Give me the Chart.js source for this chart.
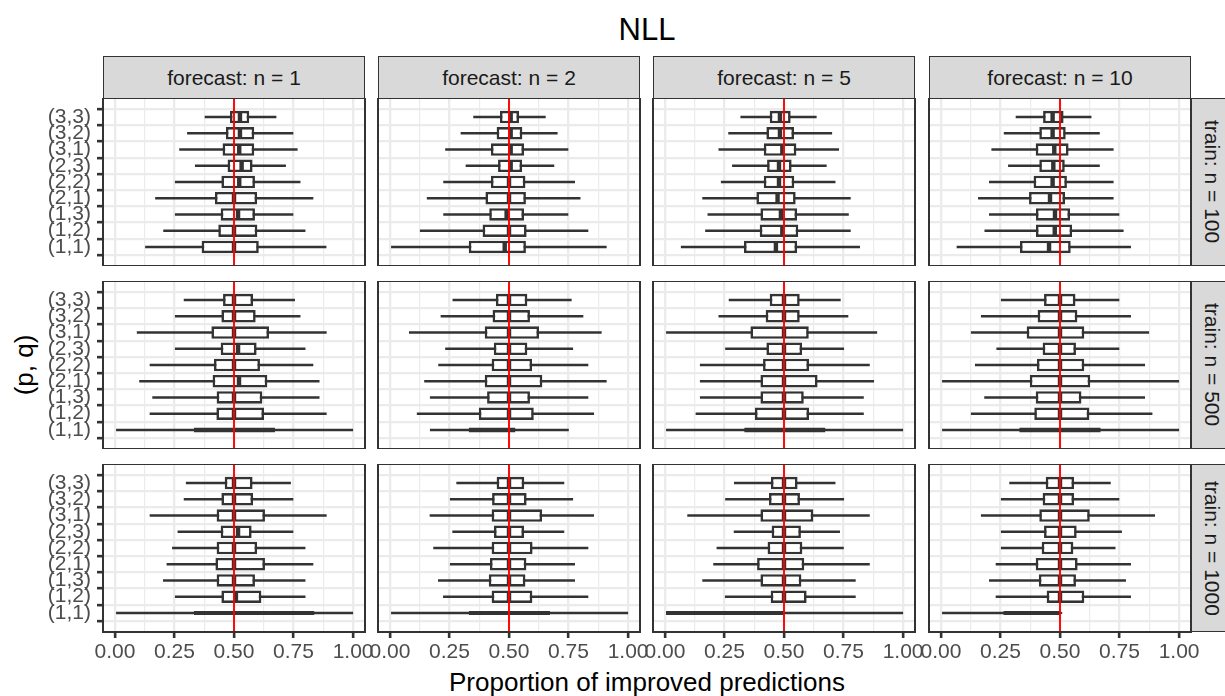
<!DOCTYPE html>
<html>
<head>
<meta charset="utf-8">
<script src="https://cdn.jsdelivr.net/npm/chart.js@4.4.1/dist/chart.umd.min.js"></script>
<style>
  body { margin: 0; background: #fff; font-family: "Liberation Sans", Arial, Helvetica, sans-serif; }
  #wrap { position: relative; width: 1225px; height: 696px; overflow: hidden; background: #fff; }
  #wrap canvas { position: absolute; }
  .txt { position: absolute; white-space: nowrap; }
  .strip { position: absolute; box-sizing: border-box; background: #D9D9D9; border: 1.8px solid #333333;
           color: #1A1A1A; font-size: 21px; display: flex; align-items: center; justify-content: center; }
  .strip.right span { writing-mode: vertical-rl; }
</style>
</head>
<body>
<div id="wrap">
  <div class="txt" style="left:103px;width:1088px;top:12px;line-height:36px;font-size:31px;text-align:center;color:#000">NLL</div>
  <div class="txt" style="left:24px;top:365px;font-size:26px;color:#000;transform:translate(-50%,-50%) rotate(-90deg)">(p, q)</div>
  <div class="txt" style="left:103px;width:1088px;top:668px;line-height:29px;font-size:26px;text-align:center;color:#000">Proportion of improved predictions</div>
</div>
<script>
// facet labels
const forecastN = [1, 2, 5, 10];
const trainN = [100, 500, 1000];
// (p, q) orders, top to bottom as drawn
const categories = ['(3,3)', '(3,2)', '(3,1)', '(2,3)', '(2,2)', '(2,1)', '(1,3)', '(1,2)', '(1,1)'];
const xBreaks = [0, 0.25, 0.5, 0.75, 1];
const xMinorBreaks = [0.125, 0.375, 0.625, 0.875];
const refValue = 0.5;

// boxplot stats, indexed [train][forecast][category]
const whiskerLow = [
  [[0.377, 0.303, 0.270, 0.336, 0.252, 0.169, 0.252, 0.203, 0.127],
   [0.350, 0.297, 0.232, 0.318, 0.224, 0.155, 0.224, 0.126, 0.000],
   [0.317, 0.266, 0.225, 0.282, 0.235, 0.157, 0.179, 0.169, 0.067],
   [0.314, 0.264, 0.212, 0.282, 0.202, 0.156, 0.202, 0.183, 0.066]],
  [[0.289, 0.252, 0.092, 0.252, 0.146, 0.102, 0.157, 0.146, 0.000],
   [0.263, 0.213, 0.080, 0.232, 0.203, 0.144, 0.168, 0.113, 0.168],
   [0.268, 0.225, 0.000, 0.253, 0.147, 0.147, 0.147, 0.129, 0.000],
   [0.252, 0.168, 0.126, 0.233, 0.143, 0.000, 0.182, 0.126, 0.000]],
  [[0.298, 0.289, 0.146, 0.263, 0.240, 0.217, 0.202, 0.252, 0.000],
   [0.279, 0.252, 0.167, 0.262, 0.182, 0.252, 0.202, 0.223, 0.000],
   [0.290, 0.253, 0.094, 0.289, 0.217, 0.203, 0.157, 0.252, 0.000],
   [0.287, 0.252, 0.168, 0.252, 0.252, 0.230, 0.202, 0.230, 0.000]],
];
const q1 = [
  [[0.483, 0.466, 0.452, 0.473, 0.447, 0.420, 0.444, 0.434, 0.364],
   [0.462, 0.448, 0.424, 0.454, 0.424, 0.401, 0.417, 0.389, 0.331],
   [0.440, 0.426, 0.415, 0.429, 0.415, 0.384, 0.401, 0.398, 0.332],
   [0.429, 0.413, 0.398, 0.413, 0.389, 0.370, 0.399, 0.399, 0.332]],
  [[0.454, 0.447, 0.405, 0.444, 0.416, 0.410, 0.427, 0.426, 0.332],
   [0.445, 0.431, 0.398, 0.436, 0.427, 0.398, 0.408, 0.373, 0.331],
   [0.440, 0.423, 0.359, 0.426, 0.412, 0.401, 0.401, 0.378, 0.333],
   [0.433, 0.406, 0.360, 0.427, 0.403, 0.373, 0.398, 0.392, 0.329]],
  [[0.461, 0.447, 0.427, 0.444, 0.427, 0.422, 0.427, 0.447, 0.332],
   [0.448, 0.429, 0.427, 0.437, 0.427, 0.420, 0.415, 0.427, 0.331],
   [0.445, 0.437, 0.401, 0.448, 0.431, 0.387, 0.401, 0.444, 0.000],
   [0.440, 0.427, 0.413, 0.433, 0.423, 0.398, 0.411, 0.444, 0.262]],
];
const median = [
  [[0.525, 0.525, 0.522, 0.532, 0.522, 0.500, 0.517, 0.500, 0.500],
   [0.507, 0.507, 0.507, 0.507, 0.500, 0.500, 0.490, 0.500, 0.482],
   [0.483, 0.483, 0.493, 0.479, 0.479, 0.473, 0.487, 0.493, 0.466],
   [0.469, 0.469, 0.476, 0.472, 0.469, 0.458, 0.479, 0.478, 0.454]],
  [[0.500, 0.500, 0.500, 0.517, 0.500, 0.521, 0.500, 0.500, 0.500],
   [0.500, 0.500, 0.500, 0.500, 0.500, 0.500, 0.500, 0.500, 0.500],
   [0.500, 0.500, 0.500, 0.500, 0.500, 0.500, 0.500, 0.500, 0.500],
   [0.500, 0.500, 0.500, 0.500, 0.500, 0.500, 0.500, 0.500, 0.500]],
  [[0.500, 0.500, 0.500, 0.517, 0.500, 0.500, 0.500, 0.508, 0.500],
   [0.500, 0.500, 0.500, 0.500, 0.500, 0.500, 0.500, 0.500, 0.500],
   [0.500, 0.500, 0.500, 0.500, 0.500, 0.500, 0.500, 0.500, 0.500],
   [0.500, 0.500, 0.500, 0.500, 0.500, 0.500, 0.500, 0.500, 0.500]],
];
const q3 = [
  [[0.564, 0.585, 0.585, 0.578, 0.588, 0.597, 0.588, 0.598, 0.604],
   [0.542, 0.556, 0.563, 0.555, 0.569, 0.571, 0.563, 0.574, 0.571],
   [0.528, 0.542, 0.552, 0.532, 0.543, 0.549, 0.555, 0.560, 0.555],
   [0.515, 0.524, 0.536, 0.520, 0.529, 0.521, 0.542, 0.551, 0.545]],
  [[0.580, 0.591, 0.647, 0.595, 0.609, 0.640, 0.619, 0.626, 0.672],
   [0.577, 0.588, 0.626, 0.577, 0.597, 0.640, 0.588, 0.604, 0.527],
   [0.566, 0.566, 0.604, 0.576, 0.605, 0.641, 0.583, 0.605, 0.674],
   [0.565, 0.573, 0.602, 0.567, 0.602, 0.627, 0.590, 0.623, 0.671]],
  [[0.578, 0.580, 0.630, 0.574, 0.597, 0.630, 0.588, 0.615, 0.838],
   [0.564, 0.574, 0.639, 0.563, 0.599, 0.573, 0.569, 0.598, 0.672],
   [0.557, 0.567, 0.623, 0.571, 0.577, 0.585, 0.573, 0.595, 0.500],
   [0.559, 0.559, 0.625, 0.570, 0.556, 0.574, 0.567, 0.602, 0.500]],
];
const whiskerHigh = [
  [[0.678, 0.749, 0.767, 0.718, 0.779, 0.833, 0.749, 0.800, 0.888],
   [0.654, 0.704, 0.749, 0.690, 0.777, 0.800, 0.749, 0.833, 0.910],
   [0.637, 0.702, 0.731, 0.679, 0.716, 0.780, 0.772, 0.780, 0.819],
   [0.632, 0.667, 0.725, 0.667, 0.725, 0.725, 0.749, 0.767, 0.798]],
  [[0.756, 0.779, 0.889, 0.800, 0.833, 0.859, 0.859, 0.889, 1.000],
   [0.763, 0.812, 0.889, 0.769, 0.833, 0.910, 0.833, 0.857, 0.751],
   [0.738, 0.770, 0.891, 0.752, 0.860, 0.878, 0.835, 0.835, 1.000],
   [0.749, 0.798, 0.874, 0.749, 0.857, 1.000, 0.857, 0.888, 1.000]],
  [[0.739, 0.749, 0.889, 0.749, 0.800, 0.833, 0.800, 0.800, 1.000],
   [0.732, 0.769, 0.857, 0.732, 0.833, 0.777, 0.777, 0.833, 1.000],
   [0.716, 0.752, 0.860, 0.735, 0.751, 0.860, 0.801, 0.801, 1.000],
   [0.713, 0.749, 0.899, 0.760, 0.733, 0.798, 0.777, 0.798, 0.500]],
];
// varwidth: relative box height per train size (the (1,1) group has fewer runs)
const boxRelWidth = [
  [1, 1, 1, 1, 1, 1, 1, 1, 1],
  [1, 1, 1, 1, 1, 1, 1, 1, 0.4],
  [1, 1, 1, 1, 1, 1, 1, 1, 0.32],
];

// panel geometry
const panelLeft = [103, 378, 653, 929];
const panelWidth = 262;
const panelTop = [98, 281, 464];
const panelHeight = 168;
const pageHeight = 696;
const sidePad = 30;

const INK = '#333333';
const GRID = '#EBEBEB';
const LINE_W = 2.6;
const TICK_FONT = {family: '"Liberation Sans", Arial, sans-serif', size: 21};

const wrap = document.getElementById('wrap');

// strips
forecastN.forEach((n, c) => {
    const d = document.createElement('div');
    d.className = 'strip';
    d.style.cssText = `left:${panelLeft[c]}px;top:56px;width:${panelWidth}px;height:43px;`;
    d.innerHTML = `<span>forecast: n = ${n}</span>`;
    wrap.appendChild(d);
});
trainN.forEach((n, r) => {
    const d = document.createElement('div');
    d.className = 'strip right';
    d.style.cssText = `left:${panelLeft[3] + panelWidth - 1}px;top:${panelTop[r]}px;width:43px;height:${panelHeight}px;`;
    d.innerHTML = `<span>train: n = ${n}</span>`;
    wrap.appendChild(d);
});

const panelDeco = {
    id: 'panelDeco',
    afterDatasetsDraw(chart) {
        const {ctx, chartArea: a, scales} = chart;
        const x = scales.x.getPixelForValue(refValue);
        ctx.save();
        ctx.strokeStyle = '#FF0000';
        ctx.lineWidth = 1.9;
        ctx.beginPath();
        ctx.moveTo(x, a.top);
        ctx.lineTo(x, a.bottom);
        ctx.stroke();
        ctx.restore();
    },
    afterDraw(chart) {
        const {ctx, chartArea: a} = chart;
        ctx.save();
        ctx.strokeStyle = INK;
        ctx.lineWidth = 2;
        ctx.strokeRect(a.left, a.top, a.right - a.left, a.bottom - a.top);
        ctx.restore();
    }
};

const makePanel = (r, c) => {
    const firstCol = c === 0;
    const bottomRow = r === trainN.length - 1;
    const left = firstCol ? 0 : panelLeft[c] - sidePad;
    const right = panelLeft[c] + panelWidth + sidePad;
    const top = panelTop[r];
    const bottom = bottomRow ? pageHeight : top + panelHeight;

    const cv = document.createElement('canvas');
    cv.width = right - left;
    cv.height = bottom - top;
    cv.style.left = left + 'px';
    cv.style.top = top + 'px';
    wrap.appendChild(cv);

    const nCat = categories.length;
    const pos = categories.map((_, i) => nCat - i);
    const rel = boxRelWidth[r];

    const datasets = [];
    // whiskers
    datasets.push({
        type: 'bar',
        data: pos.map((p, i) => ({x: [whiskerLow[r][c][i], whiskerHigh[r][c][i]], y: p})),
        backgroundColor: INK,
        borderWidth: 0,
        maxBarThickness: LINE_W,
        order: 3,
    });
    // boxes, one dataset per group so each can have its own width
    pos.forEach((p, i) => {
        datasets.push({
            type: 'bar',
            data: [{x: [q1[r][c][i], q3[r][c][i]], y: p}],
            backgroundColor: '#FFFFFF',
            borderColor: INK,
            borderWidth: LINE_W,
            borderSkipped: false,
            barPercentage: 0.77 * rel[i],
            categoryPercentage: 1,
            order: 2,
        });
    });
    // medians
    datasets.push({
        type: 'line',
        data: pos.map((p, i) => ({x: median[r][c][i], y: p})),
        showLine: false,
        pointStyle: 'line',
        pointRotation: 90,
        pointBorderColor: INK,
        pointBorderWidth: LINE_W * 1.7,
        pointRadius: ctx => {
            const y = ctx.chart.scales.y;
            const band = Math.abs(y.getPixelForValue(1) - y.getPixelForValue(2));
            return Math.max(0, band * 0.77 * rel[ctx.dataIndex] / 2 - 1);
        },
        order: 1,
    });

    new Chart(cv, {
        type: 'bar',
        data: {datasets},
        options: {
            indexAxis: 'y',
            responsive: false,
            animation: false,
            devicePixelRatio: 1,
            events: [],
            grouped: false,
            layout: {padding: {left: firstCol ? 0 : sidePad, right: sidePad, top: 0, bottom: 0}},
            plugins: {legend: {display: false}, tooltip: {enabled: false}},
            scales: {
                x: {
                    type: 'linear',
                    min: -0.05,
                    max: 1.05,
                    afterBuildTicks: s => {
                        s.ticks = [...xBreaks, ...xMinorBreaks].sort((a, b) => a - b).map(v => ({value: v}));
                    },
                    afterFit: s => {
                        s.height = bottomRow ? pageHeight - (top + panelHeight) : 0;
                        s.paddingLeft = 0;
                        s.paddingRight = 0;
                    },
                    border: {display: false},
                    grid: {
                        color: GRID,
                        lineWidth: ctx => xBreaks.includes(ctx.tick.value) ? 2.3 : 1.2,
                        drawTicks: bottomRow,
                        tickLength: 6,
                        tickWidth: LINE_W,
                        tickColor: ctx => xBreaks.includes(ctx.tick.value) ? INK : 'rgba(0,0,0,0)',
                    },
                    ticks: {
                        display: bottomRow,
                        autoSkip: false,
                        maxRotation: 0,
                        minRotation: 0,
                        padding: 2,
                        color: '#4D4D4D',
                        font: TICK_FONT,
                        callback: v => xBreaks.includes(v) ? v.toFixed(2) : '',
                    },
                },
                y: {
                    type: 'linear',
                    min: 0.4,
                    max: nCat + 0.6,
                    afterBuildTicks: s => {
                        s.ticks = pos.slice().reverse().map(v => ({value: v}));
                    },
                    afterFit: s => {
                        s.width = firstCol ? panelLeft[0] : 0;
                        s.paddingTop = 0;
                        s.paddingBottom = 0;
                    },
                    border: {display: false},
                    grid: {
                        color: GRID,
                        lineWidth: 2.3,
                        drawTicks: firstCol,
                        tickLength: 6,
                        tickWidth: LINE_W,
                        tickColor: INK,
                    },
                    ticks: {
                        display: firstCol,
                        autoSkip: false,
                        padding: 6,
                        color: '#4D4D4D',
                        font: TICK_FONT,
                        callback: v => categories[nCat - v],
                    },
                },
            },
        },
        plugins: [panelDeco],
    });
};

trainN.forEach((_, r) => forecastN.forEach((_, c) => makePanel(r, c)));
</script>
</body>
</html>
